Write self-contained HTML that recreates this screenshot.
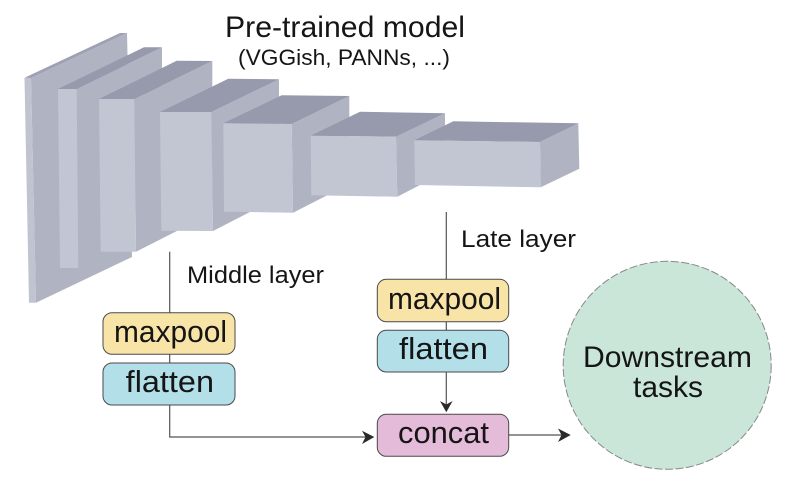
<!DOCTYPE html>
<html><head><meta charset="utf-8"><style>
html,body{margin:0;padding:0;background:#fff;width:800px;height:495px;overflow:hidden}
svg{display:block}
text{font-family:"Liberation Sans",sans-serif;fill:#151515}
</style></head><body>
<svg width="800" height="495" viewBox="0 0 800 495" xmlns="http://www.w3.org/2000/svg">
<g stroke-linejoin="round">
<!-- back plate -->
<polygon points="31,78 127,33 132,257 36,302.7" fill="#b0b3c1"/>
<polygon points="24.5,77.7 31,78 127,33 120,33" fill="#9ea1b3"/>
<polygon points="24.5,77.7 31,78 36,302.7 29,302.7" fill="#c0c3d0"/>
<!-- layer 2 -->
<polygon points="76.7,89 162,47.3 162,170 78.3,268" fill="#b0b3c1"/>
<polygon points="58,89 144,47.3 162,47.3 76.7,89" fill="#9799ac"/>
<polygon points="58,89 76.7,89 78.3,268 60,268" fill="#c2c5d2"/>
<!-- layer 3 -->
<polygon points="134.3,99 212.3,61 212.3,213 136,251.7" fill="#b0b3c1"/>
<polygon points="99,99 176.7,60.7 212.3,61 134.3,99" fill="#9799ac"/>
<polygon points="99,99 134.3,99 136,251.7 100.7,251.7" fill="#c2c5d2"/>
<!-- layer 4 -->
<polygon points="211.3,112 279,79.3 279,197 213,231" fill="#b0b3c1"/>
<polygon points="160,112 228.3,78.7 279,79.3 211.3,112" fill="#9799ac"/>
<polygon points="160,112 211.3,112 213,231 161.3,230.7" fill="#c2c5d2"/>
<!-- layer 5 -->
<polygon points="291.7,124 349.3,96 349.3,184 293,212.7" fill="#b0b3c1"/>
<polygon points="223.3,123.3 281.7,95.3 349.3,96 291.7,124" fill="#9799ac"/>
<polygon points="223.3,123.3 291.7,124 293,212.7 224,211.7" fill="#c2c5d2"/>
<!-- layer 6 -->
<polygon points="396,136.7 445,113.3 445,172 397.3,196.7" fill="#b0b3c1"/>
<polygon points="310.7,135.7 360,111.7 445,113.3 396,136.7" fill="#9799ac"/>
<polygon points="310.7,135.7 396,136.7 397.3,196.7 311.3,195.3" fill="#c2c5d2"/>
<!-- layer 7 -->
<polygon points="540,142 578.3,123.3 579.3,168.7 540.7,187.3" fill="#b0b3c1"/>
<polygon points="414.3,140.3 453.3,121.3 578.3,123.3 540,142" fill="#9799ac"/>
<polygon points="414.3,140.3 540,142 540.7,187.3 415,185" fill="#c2c5d2"/>
</g>

<!-- connectors -->
<g fill="none" stroke="#555" stroke-width="1.2">
<path d="M169.7 251.7V437H366"/>
<path d="M446.3 212V405"/>
<path d="M509 435H562"/>
</g>
<g fill="#2a2a2a">
<polygon points="374.3,437 362,430.7 365.5,437 362,444"/>
<polygon points="446.3,412.3 440,401 446.3,404.5 452.6,401"/>
<polygon points="570.7,435 558,428.5 561.5,435 558,442"/>
</g>

<!-- boxes -->
<g stroke="#4a4a4a" stroke-width="1">
<rect x="103" y="312.7" width="132" height="41.6" rx="9" fill="#f9e4a8"/>
<rect x="103" y="363" width="132" height="42" rx="9" fill="#b3dfe9"/>
<rect x="377.3" y="279.3" width="131.4" height="42.4" rx="9" fill="#f9e4a8"/>
<rect x="377.3" y="330.3" width="131.4" height="41.7" rx="9" fill="#b3dfe9"/>
<rect x="377.3" y="414.3" width="131.4" height="42" rx="9" fill="#e4bcd9"/>
</g>

<!-- circle -->
<circle cx="667.2" cy="365.3" r="104" fill="#c9e6d9" stroke="#888" stroke-width="1" stroke-dasharray="8 2.5"/>

<!-- text -->
<text x="225" y="37" font-size="30" textLength="240" lengthAdjust="spacingAndGlyphs">Pre-trained model</text>
<text x="238" y="65" font-size="22" textLength="212" lengthAdjust="spacingAndGlyphs">(VGGish, PANNs, ...)</text>
<text x="187" y="283" font-size="24" textLength="137" lengthAdjust="spacingAndGlyphs">Middle layer</text>
<text x="461" y="247" font-size="24" textLength="115" lengthAdjust="spacingAndGlyphs">Late layer</text>
<text x="114" y="342" font-size="31" textLength="113" lengthAdjust="spacingAndGlyphs">maxpool</text>
<text x="125.7" y="392" font-size="31" textLength="88.3" lengthAdjust="spacingAndGlyphs">flatten</text>
<text x="388" y="309" font-size="31" textLength="113" lengthAdjust="spacingAndGlyphs">maxpool</text>
<text x="399" y="359" font-size="31" textLength="89" lengthAdjust="spacingAndGlyphs">flatten</text>
<text x="398" y="443" font-size="31" textLength="91" lengthAdjust="spacingAndGlyphs">concat</text>
<text x="583" y="367" font-size="30" textLength="169" lengthAdjust="spacingAndGlyphs">Downstream</text>
<text x="633" y="397" font-size="30" textLength="70" lengthAdjust="spacingAndGlyphs">tasks</text>
</svg>
</body></html>
